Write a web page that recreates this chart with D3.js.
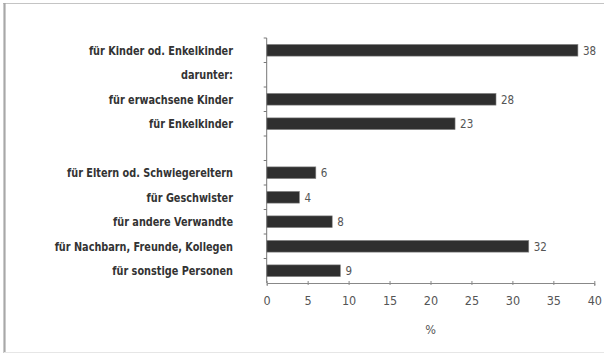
<!DOCTYPE html>
<html><head><meta charset="utf-8">
<script src="https://cdn.jsdelivr.net/npm/d3@7"></script>
<style>
html,body{margin:0;padding:0;background:#fff;}
svg{display:block;}
</style></head>
<body>
<svg id="chart" width="604" height="355"></svg>
<script>
const categories = [
  "für Kinder od. Enkelkinder",
  "darunter:",
  "für erwachsene Kinder",
  "für Enkelkinder",
  "",
  "für Eltern od. Schwiegereltern",
  "für Geschwister",
  "für andere Verwandte",
  "für Nachbarn, Freunde, Kollegen",
  "für sonstige Personen"
];
const values = [38, null, 28, 23, null, 6, 4, 8, 32, 9];
const xTicks = [0, 5, 10, 15, 20, 25, 30, 35, 40];
const xTitle = "%";

const svg = d3.select("#chart");
const W = 604, H = 355;

svg.append("rect").attr("x", 0).attr("y", 0).attr("width", W).attr("height", H).attr("fill", "#fff");
// frame
svg.append("line").attr("x1", 3).attr("x2", 604).attr("y1", 3.5).attr("y2", 3.5).attr("stroke", "#c4c4c4").attr("stroke-width", 1.2);
svg.append("line").attr("x1", 4.5).attr("x2", 4.5).attr("y1", 3).attr("y2", 353).attr("stroke", "#a8a8a8").attr("stroke-width", 2.2);
svg.append("line").attr("x1", 4).attr("x2", 604).attr("y1", 352.5).attr("y2", 352.5).attr("stroke", "#e6e6e6").attr("stroke-width", 1);

const x = d3.scaleLinear().domain([0, 40]).range([266.7, 594.3]);
const y = d3.scaleBand().domain(d3.range(categories.length)).range([38, 283]).paddingInner(0.52).paddingOuter(0.26);

const font = "'DejaVu Sans Condensed','Open Sans',sans-serif";

// bars
svg.append("g").selectAll("rect").data(values.map((v, i) => ({v, i})).filter(d => d.v != null))
  .join("rect")
  .attr("x", x(0))
  .attr("y", d => y(d.i))
  .attr("width", d => x(d.v) - x(0))
  .attr("height", y.bandwidth())
  .attr("fill", "#2f2f2f")
  .attr("stroke", "#8a8a8a")
  .attr("stroke-width", 0.6);

// value labels
svg.append("g").selectAll("text").data(values.map((v, i) => ({v, i})).filter(d => d.v != null))
  .join("text")
  .attr("transform", d => `translate(${x(d.v) + 5},${y(d.i) + y.bandwidth() / 2}) scale(0.92,1)`)
  .attr("dy", "0.36em")
  .attr("font-family", font)
  .attr("font-size", 12.5)
  .attr("fill", "#555")
  .text(d => d.v);

// category labels
svg.append("g").selectAll("text").data(categories)
  .join("text")
  .attr("transform", (d, i) => `translate(233,${y(i) + y.bandwidth() / 2}) scale(0.9,1)`)
  .attr("dy", "0.36em")
  .attr("text-anchor", "end")
  .attr("font-family", font)
  .attr("font-weight", "bold")
  .attr("font-size", 12)
  .attr("fill", "#333")
  .text(d => d);

// y axis line with ticks at band boundaries
const yAxisG = svg.append("g");
yAxisG.append("line").attr("x1", x(0)).attr("x2", x(0)).attr("y1", 38).attr("y2", 283).attr("stroke", "#777").attr("stroke-width", 1);
yAxisG.selectAll("line.t").data(d3.range(categories.length)).join("line").attr("class", "t")
  .attr("x1", x(0) - 3).attr("x2", x(0))
  .attr("y1", i => 38 + i * (245 / categories.length)).attr("y2", i => 38 + i * (245 / categories.length))
  .attr("stroke", "#777");

// x axis
const xAxis = d3.axisBottom(x).tickValues(xTicks).tickSize(3).tickPadding(10);
const xg = svg.append("g").attr("transform", "translate(0,283)").call(xAxis);
xg.select(".domain").attr("stroke", "#888");
xg.selectAll(".tick line").attr("stroke", "#888").attr("y1", -2).attr("y2", 2);
xg.selectAll(".tick text").attr("font-family", font).attr("font-size", 12.5).attr("fill", "#555");

svg.append("text").attr("x", x(20)).attr("y", 334).attr("text-anchor", "middle")
  .attr("font-family", font).attr("font-size", 12.5).attr("fill", "#555").text(xTitle);
</script>
</body></html>
